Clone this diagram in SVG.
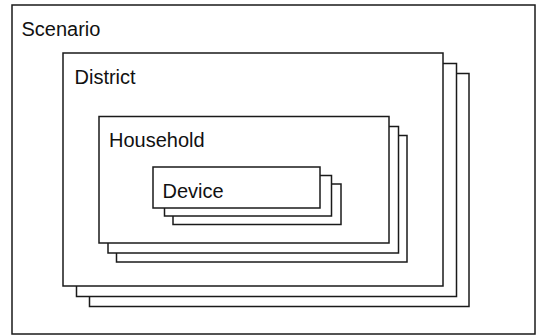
<svg xmlns="http://www.w3.org/2000/svg" width="536" height="335" viewBox="0 0 536 335">
<style>
rect{fill:#fff;stroke:#1a1a1a;stroke-width:1.5}
text{font-family:"Liberation Sans",Arial,Helvetica,sans-serif;font-size:20px;fill:#111}
</style>
<rect x="0" y="0" width="536" height="335" style="stroke:none"/>
<g id="scenario">
<rect x="12" y="5" width="523" height="329"/>
<text x="21.5" y="36">Scenario</text>
</g>
<g id="district">
<rect x="89.5" y="73.5" width="379.5" height="233"/>
<rect x="76.5" y="63.5" width="380" height="233"/>
<rect x="63" y="53" width="380" height="233"/>
<text x="74.5" y="84">District</text>
</g>
<g id="household">
<rect x="116.5" y="135.5" width="290.5" height="126.5"/>
<rect x="108" y="126.5" width="290.5" height="126.5"/>
<rect x="99" y="116.5" width="290" height="126.5"/>
<text x="109" y="147">Household</text>
</g>
<g id="device">
<rect x="173" y="184" width="168" height="40.5"/>
<rect x="164.5" y="175.5" width="167" height="40.5"/>
<rect x="153" y="167" width="167" height="41"/>
<text x="162.5" y="198">Device</text>
</g>
<g id="connectors"/>
</svg>
